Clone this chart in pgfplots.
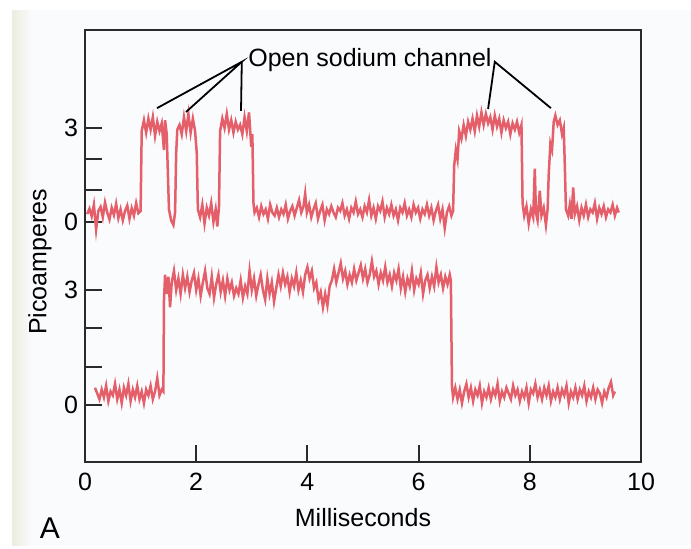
\documentclass[border=0pt]{standalone}
\usepackage{fontspec}
\setmainfont{Liberation Sans}
\usepackage{pgfplots}
\pgfplotsset{compat=1.18}

\definecolor{trace}{HTML}{E45F69}
\definecolor{axisgray}{HTML}{2A2A2A}
\definecolor{panel}{HTML}{FAFBFD}
\definecolor{cream}{HTML}{ECEDDF}

\begin{document}
\begin{tikzpicture}
% page background, 1 px of the reference = 0.5pt, axis box lower-left at (0,0)
\fill[white] (-42.5pt,-43pt) rectangle (303pt,231pt);
\fill[panel] (-36.5pt,-41.5pt) rectangle (303pt,226pt);
\shade[left color=cream, right color=panel] (-36.5pt,-41.5pt) rectangle (-26.5pt,226pt);

\begin{axis}[
  scale only axis, width=278pt, height=216pt,
  xmin=0, xmax=10, ymin=-1.49, ymax=9.79,
  xtick={0,2,4,6,8,10},
  ytick={0,1,2,3,4.78,5.60,6.42,7.23},
  yticklabels={0,,,3,0,,,3},
  xtick pos=lower, ytick pos=left,
  tick align=inside, major tick length=8.5pt,
  tick style={axisgray, line width=1pt},
  axis line style={axisgray, line width=1pt},
  ticklabel style={font=\fontsize{12.5}{15}\selectfont},
  /pgf/number format/assume math mode=true,
  xticklabel style={yshift=-2pt},
  clip=false,
]
% upper record: three short openings and two later ones (values in pA)
\addplot[trace, line width=1.25pt, y filter/.expression={4.78+0.817*y}] table {
0.04 0.25
0.08 0.42
0.12 0.18
0.16 0.55
0.20 -0.25
0.24 0.35
0.28 0.48
0.32 0.15
0.36 0.62
0.40 0.30
0.44 0.08
0.48 0.45
0.52 0.22
0.56 0.58
0.60 0.12
0.64 0.40
0.68 0.05
0.72 0.35
0.76 0.52
0.80 0.10
0.84 0.44
0.88 0.20
0.92 0.60
0.96 0.28
1.00 0.35
1.02 2.90
1.06 3.25
1.10 2.85
1.14 3.30
1.18 2.95
1.22 3.35
1.26 2.75
1.30 3.20
1.34 2.90
1.38 3.15
1.42 2.30
1.44 3.25
1.47 2.80
1.49 1.60
1.51 0.40
1.55 0.05
1.59 -0.10
1.62 0.30
1.64 2.20
1.66 2.95
1.70 3.10
1.74 2.80
1.78 3.35
1.82 2.90
1.86 3.45
1.90 2.85
1.94 3.30
1.98 2.90
2.01 2.20
2.03 0.40
2.07 0.15
2.11 0.55
2.15 -0.05
2.19 0.45
2.23 0.20
2.27 0.60
2.31 0.00
2.35 0.40
2.38 -0.15
2.41 0.50
2.43 2.90
2.47 3.30
2.51 3.00
2.55 3.45
2.59 2.95
2.63 3.25
2.67 2.85
2.71 3.20
2.75 2.95
2.79 3.10
2.83 2.80
2.87 3.35
2.91 2.90
2.95 3.50
2.99 2.40
3.01 2.80
3.03 0.60
3.05 0.30
3.09 0.45
3.13 0.15
3.17 0.50
3.21 0.25
3.25 0.40
3.29 0.10
3.33 0.55
3.37 0.30
3.41 0.20
3.45 0.45
3.49 0.15
3.53 0.40
3.57 0.25
3.61 0.55
3.65 0.10
3.69 0.35
3.73 0.50
3.77 0.20
3.81 0.45
3.85 0.70
3.89 0.30
3.93 0.50
3.96 0.90
3.99 0.30
4.03 0.55
4.07 0.15
4.11 0.40
4.15 0.60
4.19 0.10
4.23 0.35
4.27 0.55
4.31 0.05
4.35 0.40
4.39 0.25
4.43 0.50
4.47 0.30
4.51 0.15
4.55 0.45
4.59 0.35
4.63 0.60
4.67 0.20
4.71 0.40
4.75 0.10
4.79 0.45
4.83 0.30
4.87 0.65
4.91 0.25
4.95 0.40
4.99 0.15
5.03 0.50
5.07 0.30
5.11 0.70
5.15 0.20
5.19 0.45
5.23 0.10
5.27 0.50
5.31 0.35
5.35 0.65
5.39 0.15
5.43 0.45
5.47 0.25
5.51 0.55
5.55 0.20
5.59 0.40
5.63 0.05
5.67 0.45
5.71 0.30
5.75 0.60
5.79 0.20
5.83 0.40
5.87 0.15
5.91 0.55
5.95 0.30
5.99 0.45
6.03 0.10
6.07 0.40
6.11 0.25
6.15 0.55
6.19 0.20
6.23 0.45
6.27 0.05
6.31 0.35
6.35 0.55
6.39 0.10
6.43 0.40
6.47 -0.20
6.51 0.30
6.55 0.50
6.59 0.20
6.62 0.35
6.64 1.80
6.67 2.30
6.70 2.00
6.73 2.90
6.77 2.65
6.81 3.10
6.85 2.75
6.89 3.20
6.93 2.95
6.97 3.30
7.01 2.90
7.05 3.40
7.09 3.05
7.13 3.50
7.17 3.10
7.21 3.45
7.25 3.15
7.29 3.35
7.33 2.95
7.37 3.40
7.41 3.05
7.45 3.30
7.49 2.85
7.53 3.25
7.57 3.00
7.61 3.20
7.65 2.80
7.69 3.15
7.73 2.95
7.77 3.20
7.81 2.85
7.85 3.10
7.87 0.60
7.90 0.20
7.94 0.50
7.98 -0.05
8.02 0.40
8.06 0.15
8.09 1.70
8.11 0.30
8.14 0.05
8.18 1.00
8.21 0.20
8.25 0.45
8.29 -0.10
8.32 0.40
8.34 1.50
8.37 2.50
8.40 2.30
8.43 3.20
8.46 3.40
8.50 3.10
8.54 3.25
8.58 2.80
8.61 3.00
8.63 1.80
8.65 0.40
8.69 0.20
8.72 0.55
8.75 0.10
8.78 1.10
8.81 0.25
8.85 0.50
8.89 0.05
8.93 0.45
8.97 0.20
9.01 0.55
9.05 0.15
9.09 0.40
9.13 0.30
9.17 0.60
9.21 0.10
9.25 0.45
9.29 0.25
9.33 0.50
9.37 0.15
9.41 0.40
9.45 0.30
9.49 0.55
9.53 0.20
9.57 0.45
9.60 0.30
};

% lower record: one long opening
\addplot[trace, line width=1.25pt] table {
0.18 0.45
0.22 0.30
0.26 0.15
0.30 0.40
0.34 0.20
0.38 0.50
0.42 0.10
0.46 0.35
0.50 0.25
0.54 0.55
0.58 0.15
0.62 0.40
0.66 0.05
0.70 0.45
0.74 0.25
0.78 0.55
0.82 0.10
0.86 0.40
0.90 0.20
0.94 0.50
0.98 0.15
1.02 0.35
1.06 0.05
1.10 0.40
1.14 0.25
1.18 0.50
1.22 0.15
1.26 0.35
1.30 0.70
1.34 0.25
1.38 0.40
1.41 0.35
1.42 2.70
1.44 3.40
1.47 2.90
1.50 3.35
1.53 2.55
1.56 3.20
1.60 3.50
1.64 3.00
1.68 3.30
1.72 2.90
1.76 3.40
1.80 3.05
1.84 3.35
1.88 2.95
1.92 3.25
1.96 3.45
2.00 3.00
2.04 3.30
2.08 2.85
2.12 3.20
2.16 3.50
2.20 3.05
2.24 2.90
2.28 3.35
2.32 2.80
2.36 3.15
2.40 3.40
2.44 2.95
2.48 3.25
2.52 2.85
2.56 3.30
2.60 3.00
2.64 3.20
2.68 2.85
2.72 3.05
2.76 2.90
2.80 3.25
2.84 2.80
2.88 3.10
2.92 2.90
2.96 3.50
3.00 3.00
3.04 3.30
3.08 2.85
3.12 3.15
3.16 3.40
3.20 3.00
3.24 2.75
3.28 3.30
3.32 2.90
3.36 3.20
3.40 2.70
3.44 3.05
3.48 3.40
3.52 3.10
3.56 3.45
3.60 3.15
3.64 3.35
3.68 2.95
3.72 3.30
3.76 3.10
3.80 3.45
3.84 3.00
3.88 3.25
3.92 2.95
3.96 3.40
4.00 3.60
4.04 3.30
4.08 3.50
4.12 3.05
4.16 3.20
4.20 2.75
4.24 2.95
4.28 2.55
4.32 2.90
4.36 2.60
4.40 3.10
4.44 3.25
4.48 3.55
4.52 3.20
4.56 3.45
4.60 3.70
4.64 3.30
4.68 3.50
4.72 3.15
4.76 3.40
4.80 3.20
4.84 3.55
4.88 3.25
4.92 3.45
4.96 3.65
5.00 3.30
5.04 3.55
5.08 3.20
5.12 3.40
5.16 3.75
5.20 3.35
5.24 3.50
5.28 3.15
5.32 3.45
5.36 3.25
5.40 3.60
5.44 3.20
5.48 3.40
5.52 3.10
5.56 3.45
5.60 3.25
5.64 3.55
5.68 3.05
5.72 3.35
5.76 2.95
5.80 3.30
5.84 3.10
5.88 3.50
5.92 3.00
5.96 3.30
6.00 3.15
6.04 3.45
6.08 2.90
6.12 3.25
6.16 3.40
6.20 3.05
6.24 3.35
6.28 3.10
6.32 3.60
6.36 3.20
6.40 3.40
6.44 3.05
6.48 3.35
6.52 3.15
6.56 3.40
6.58 3.25
6.60 0.50
6.62 0.20
6.66 0.45
6.70 0.15
6.74 0.40
6.78 0.05
6.82 0.35
6.86 0.55
6.90 0.20
6.94 0.45
6.98 0.10
7.02 0.40
7.06 0.25
7.10 0.50
7.14 0.05
7.18 0.35
7.22 0.20
7.26 0.45
7.30 0.15
7.34 0.40
7.38 0.25
7.42 0.55
7.46 0.10
7.50 0.35
7.54 0.20
7.58 0.45
7.62 0.30
7.66 0.15
7.70 0.50
7.74 0.25
7.78 0.40
7.82 0.10
7.86 0.35
7.90 0.20
7.94 0.45
7.98 0.05
8.02 0.40
8.06 0.30
8.10 0.55
8.14 0.20
8.18 0.40
8.22 0.15
8.26 0.45
8.30 0.25
8.34 0.50
8.38 0.10
8.42 0.35
8.46 0.20
8.50 0.45
8.54 0.15
8.58 0.40
8.62 0.25
8.66 0.50
8.70 0.05
8.74 0.35
8.78 0.20
8.82 0.45
8.86 0.15
8.90 0.40
8.94 0.25
8.98 0.50
9.02 0.10
9.06 0.35
9.10 0.20
9.14 0.45
9.18 0.15
9.22 0.40
9.26 0.30
9.30 0.05
9.34 0.35
9.38 0.20
9.42 0.45
9.46 0.60
9.50 0.25
9.53 0.35
};

% pointer lines to the openings
\draw[black, line width=0.9pt] (axis cs:1.295,7.75) -- (axis cs:2.82,8.96) -- (axis cs:1.817,7.65);
\draw[black, line width=0.9pt] (axis cs:2.82,8.96) -- (axis cs:2.806,7.68);
\draw[black, line width=0.9pt] (axis cs:7.25,7.73) -- (axis cs:7.37,8.96) -- (axis cs:8.38,7.75);
\node[anchor=base west, inner sep=0pt, font=\fontsize{12.5}{15}\selectfont]
  at (axis cs:2.93,8.83) {Open sodium channel};

\node[rotate=90, font=\fontsize{12.5}{15}\selectfont] at (rel axis cs:-0.081,0.463) {Picoamperes};
\node[font=\fontsize{12.5}{15}\selectfont] at (rel axis cs:0.5,-0.1296) {Milliseconds};
\node[font=\fontsize{15}{18}\selectfont] at (rel axis cs:-0.063,-0.153) {A};
\end{axis}
\end{tikzpicture}
\end{document}
